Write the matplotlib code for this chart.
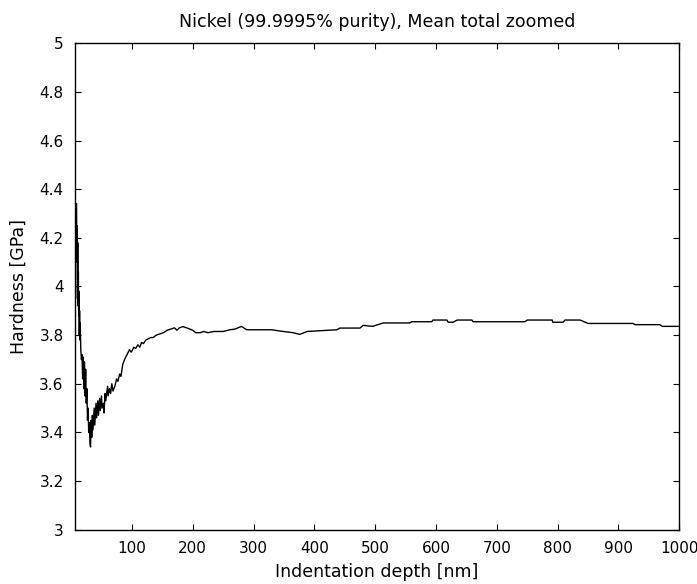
import matplotlib
matplotlib.use("Agg")
import matplotlib.pyplot as plt

plt.rcParams['font.family'] = ['DejaVu Sans']

# indentation depth [nm] and mean hardness [GPa]
depth = [9, 9.5, 10, 10.5, 11, 11.5, 12, 12.5, 13, 13.5, 14, 14.5, 15, 16, 17,
         18, 19, 20, 21, 22, 23, 24, 25, 26, 27, 28, 29, 30, 31, 32, 33, 34,
         35, 36, 38, 39, 41, 42, 44, 45, 47, 48, 50, 51, 53, 54, 56, 57, 60,
         61, 63, 65, 67, 69, 72, 75, 77, 80, 82, 85, 88, 92, 96, 99, 103, 106,
         110, 113, 116, 119, 123, 127, 131, 135, 140, 146, 152, 158, 164, 170,
         174, 178, 184, 190, 195, 200, 205, 212, 218, 225, 235, 250, 261, 270,
         280, 289, 330, 343, 365, 376, 388, 437, 442, 475, 480, 496, 513, 557,
         560, 593, 595, 618, 620, 628, 635, 659, 661, 746, 750, 791, 792, 809,
         812, 837, 850, 924, 927, 968, 972, 1000]
hardness = [4.34, 4.10, 4.25, 3.95, 4.18, 3.92, 4.06, 3.88, 3.98, 3.80, 3.90,
            3.78, 3.85, 3.74, 3.70, 3.72, 3.62, 3.71, 3.58, 3.69, 3.55, 3.66,
            3.52, 3.58, 3.45, 3.50, 3.40, 3.44, 3.36, 3.34, 3.45, 3.38, 3.47,
            3.41, 3.50, 3.43, 3.52, 3.46, 3.53, 3.47, 3.54, 3.49, 3.55, 3.50,
            3.52, 3.48, 3.56, 3.53, 3.59, 3.55, 3.58, 3.56, 3.60, 3.57, 3.59,
            3.62, 3.61, 3.64, 3.63, 3.68, 3.70, 3.72, 3.74, 3.73, 3.75, 3.745,
            3.76, 3.75, 3.77, 3.765, 3.78, 3.785, 3.79, 3.79, 3.80, 3.805, 3.81,
            3.82, 3.825, 3.83, 3.82, 3.83, 3.835, 3.83, 3.825, 3.82, 3.81,
            3.81, 3.815, 3.81, 3.815, 3.815, 3.822, 3.825, 3.836, 3.822, 3.822,
            3.817, 3.81, 3.803, 3.815, 3.822, 3.829, 3.829, 3.84, 3.836, 3.85,
            3.85, 3.855, 3.855, 3.862, 3.862, 3.853, 3.853, 3.862, 3.862,
            3.855, 3.855, 3.862, 3.862, 3.853, 3.853, 3.862, 3.862, 3.848,
            3.848, 3.843, 3.843, 3.836, 3.836]

xticks = [100, 200, 300, 400, 500, 600, 700, 800, 900, 1000]
yticks = [3, 3.2, 3.4, 3.6, 3.8, 4, 4.2, 4.4, 4.6, 4.8, 5]
ytick_labels = ['3', '3.2', '3.4', '3.6', '3.8', '4', '4.2', '4.4', '4.6', '4.8', '5']

fig = plt.figure(figsize=(6.97, 5.84), dpi=100)
ax = fig.add_axes([0.1072, 0.093, 0.8674, 0.8329])

ax.plot(depth, hardness, color='black', linewidth=1.0)

ax.set_xlim(6, 1000)
ax.set_ylim(3, 5)
ax.set_xticks(xticks)
ax.set_yticks(yticks)
ax.set_yticklabels(ytick_labels)
ax.tick_params(direction='in', top=True, right=True, length=4, width=0.8,
               labelsize=11, pad=8)
for s in ax.spines.values():
    s.set_linewidth(1.0)

ax.set_title('Nickel (99.9995% purity), Mean total zoomed', fontsize=12.5, pad=12)
ax.set_xlabel('Indentation depth [nm]', fontsize=12.5, labelpad=5)
ax.set_ylabel('Hardness [GPa]', fontsize=12.5, labelpad=8)

fig.savefig('out.png', dpi=100)
